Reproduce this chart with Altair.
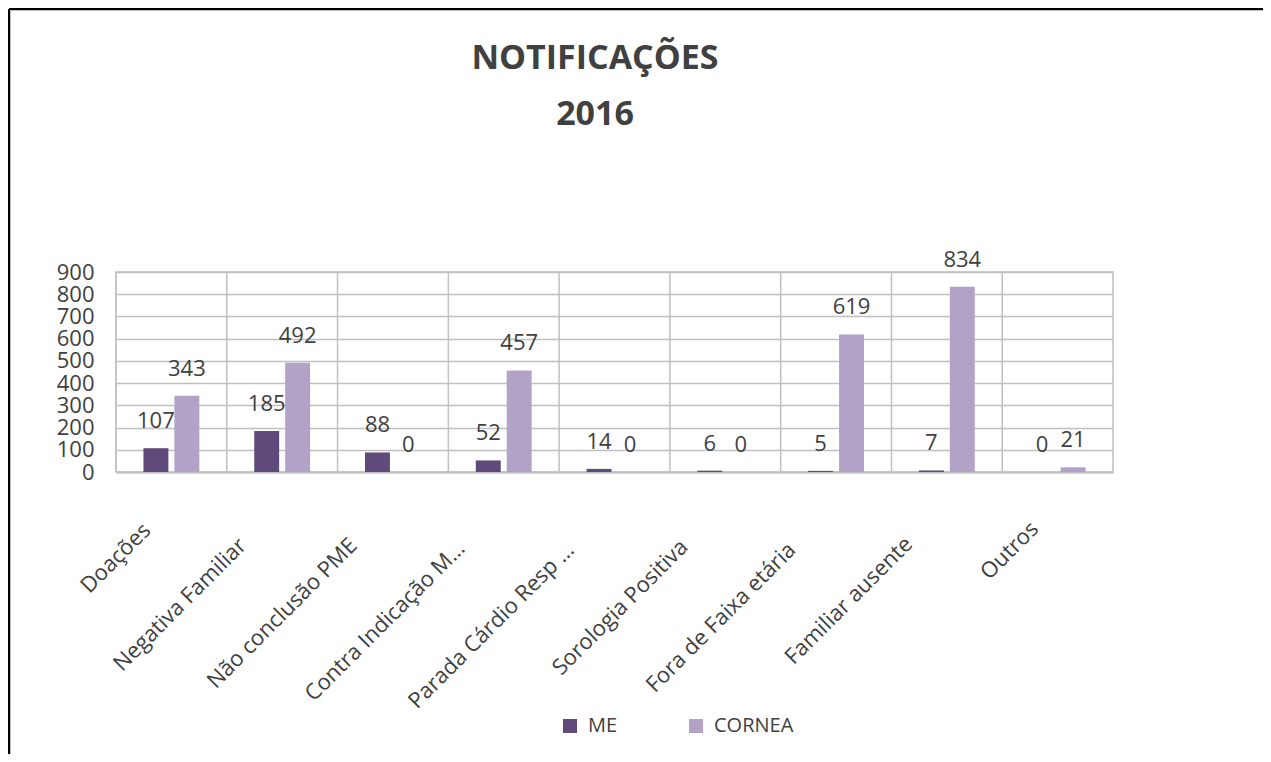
import altair as alt
import pandas as pd

categories = ["Doações", "Negativa Familiar", "Não conclusão PME", "Contra Indicação M…",
              "Parada Cárdio Resp …", "Sorologia Positiva", "Fora de Faixa etária",
              "Familiar ausente", "Outros"]
me_values = [107, 185, 88, 52, 14, 6, 5, 7, 0]
cornea_values = [343, 492, 0, 457, 0, 0, 619, 834, 21]
series_names = ["ME", "CORNEA"]
series_colors = ["#604A7B", "#B3A2C7"]
y_ticks = [0, 100, 200, 300, 400, 500, 600, 700, 800, 900]
title_lines = ["NOTIFICAÇÕES", "2016"]

rows = []
for c, a, b in zip(categories, me_values, cornea_values):
    rows.append({"cat": c, "series": "ME", "value": a})
    rows.append({"cat": c, "series": "CORNEA", "value": b})
df = pd.DataFrame(rows)

FONT = "Open Sans"
TXT = "#404040"
GRID = "#C0C0C0"

x_axis = alt.Axis(
    labelAngle=-45, labelAlign="right", labelBaseline="middle",
    ticks=False, domainColor=GRID, domainWidth=2,
    labelFont=FONT, labelFontSize=22, labelColor=TXT, labelLimit=400,
    labelOffset=alt.ExprRef(expr="-14 - 1.5*length(datum.label)"),
    labelPadding=alt.ExprRef(expr="44 + 1.5*length(datum.label)"),
    grid=False,
)
y_axis = alt.Axis(values=y_ticks, grid=True, gridColor=GRID, gridWidth=1.5,
                  domain=False, ticks=False, labelPadding=22, labelOverlap=False,
                  labelFont=FONT, labelFontSize=22, labelColor=TXT, tickCount=10)
x_scale = alt.Scale(paddingInner=0, paddingOuter=0)
y_scale = alt.Scale(domain=[0, 900], nice=False)

x_enc = alt.X("cat:N", sort=categories, title=None, scale=x_scale, axis=x_axis)
y_enc = alt.Y("value:Q", title=None, scale=y_scale, axis=y_axis)
xoff = alt.XOffset("series:N", sort=series_names,
                   scale=alt.Scale(paddingInner=0.194, paddingOuter=0.887))
color = alt.Color(
    "series:N", sort=series_names,
    scale=alt.Scale(domain=series_names, range=series_colors),
    legend=alt.Legend(orient="none", legendX=444, legendY=444, direction="horizontal",
                      title=None, symbolType="square", symbolSize=196,
                      symbolStrokeWidth=0, labelFont=FONT, labelFontSize=20,
                      labelColor=TXT, columnPadding=68, labelOffset=8, padding=0),
)

base = alt.Chart(df)

bars = base.mark_bar().encode(x=x_enc, xOffset=xoff, y=y_enc, color=color)

vgrid = base.transform_filter(alt.datum.series == "ME").mark_rule(
    color=GRID, strokeWidth=1.5
).encode(
    x=alt.X("cat:N", sort=categories, bandPosition=0, title=None, scale=x_scale, axis=x_axis),
    y=alt.YDatum(0, scale=y_scale, axis=y_axis),
    y2=alt.datum(900),
)

labels = base.mark_text(dy=-27, font=FONT, fontSize=22, color=TXT, baseline="middle").encode(
    x=x_enc, xOffset=xoff, y=y_enc, text=alt.Text("value:Q"),
)

one = pd.DataFrame({"k": [0]})
title_mark = alt.Chart(one).mark_text(
    text=title_lines, font=FONT, fontSize=34, fontWeight="bold", color=TXT,
    lineHeight=56, align="center", baseline="alphabetic",
).encode(x=alt.value(479), y=alt.value(-203))

frame_top = alt.Chart(one).mark_rule(color="black", strokeWidth=2.5).encode(
    x=alt.value(-107), x2=alt.value(1147), y=alt.value(-263)
)
frame_left = alt.Chart(one).mark_rule(color="black", strokeWidth=2.5).encode(
    x=alt.value(-107), y=alt.value(-263), y2=alt.value(482)
)

chart = alt.layer(bars, vgrid, labels, title_mark, frame_top, frame_left).properties(
    width=997, height=200,
    autosize=alt.AutoSizeParams(type="none"),
    padding={"left": 108, "top": 264, "right": 150, "bottom": 282},
    background="white",
).configure_view(stroke=GRID, strokeWidth=1.5)

chart.save("out.html", embed_options={"renderer": "svg", "actions": False})
